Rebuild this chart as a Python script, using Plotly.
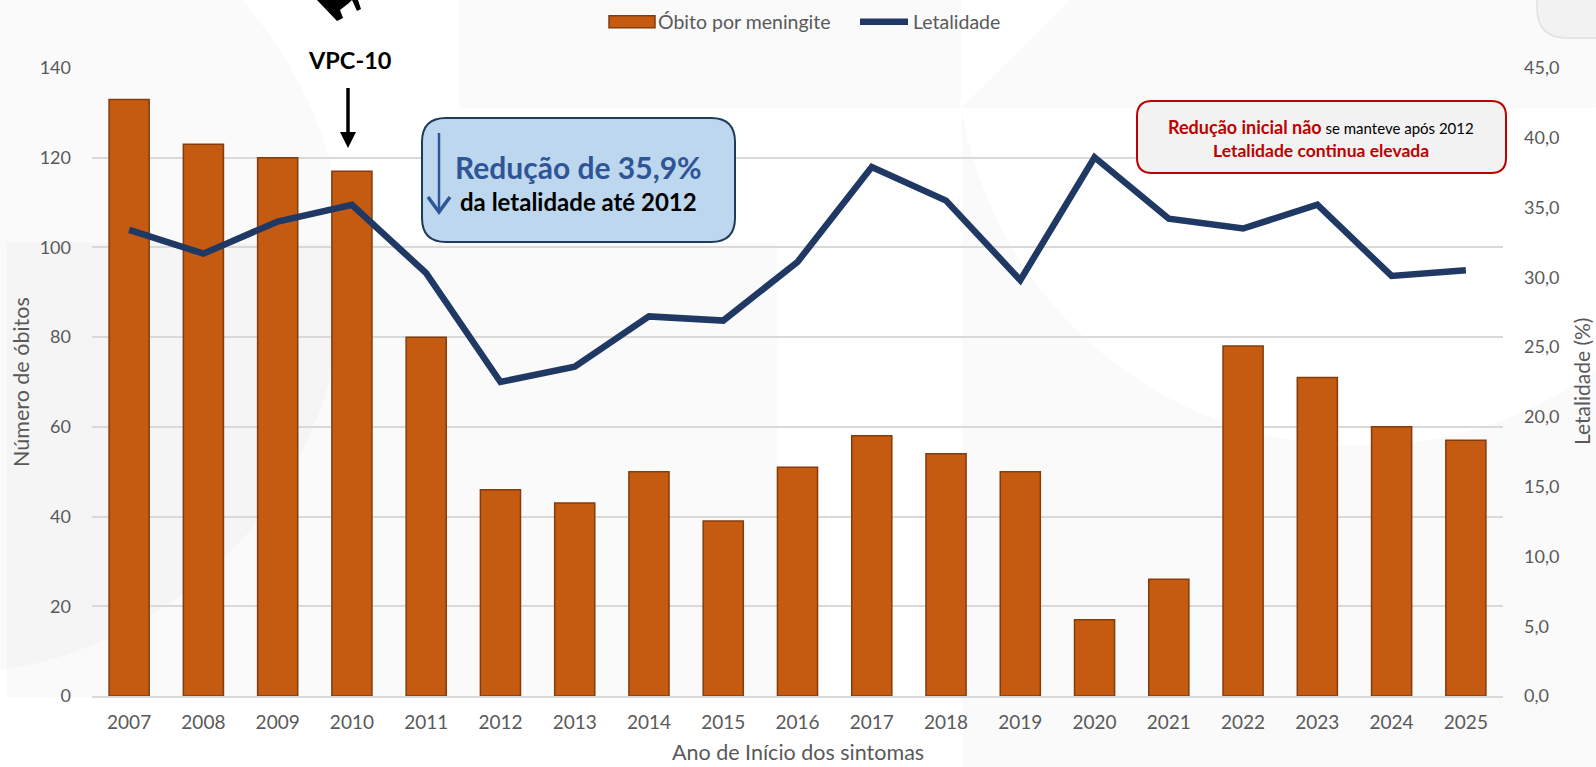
import numpy as np
import plotly.graph_objects as go

years = ["2007","2008","2009","2010","2011","2012","2013","2014","2015","2016","2017","2018","2019","2020","2021","2022","2023","2024","2025"]
obitos = [133,123,120,117,80,46,43,50,39,51,58,54,50,17,26,78,71,60,57]
letalidade = [33.4,31.7,34.0,35.2,30.3,22.5,23.6,27.2,26.9,31.1,37.9,35.5,29.8,38.6,34.2,33.5,35.2,30.1,30.5]
left_ticks = [0,20,40,60,80,100,120,140]
right_ticks = [0,5,10,15,20,25,30,35,40,45]
right_labels = ["0,0","5,0","10,0","15,0","20,0","25,0","30,0","35,0","40,0","45,0"]

W, H = 1596, 767
L, R, T, B = 92, 1503, 68, 696
FONT = "Lato"
GREY = "#595959"

def X(px): return (px - L) / (R - L)
def Y(py): return (B - py) / (B - T)

def poly(pts):
    return "M" + "L".join(f"{X(a):.5f},{Y(b):.5f}" for a, b in pts) + "Z"

def rounded(x0, y0, x1, y1, r):
    return (f"M{X(x0+r):.5f},{Y(y0):.5f}L{X(x1-r):.5f},{Y(y0):.5f}Q{X(x1):.5f},{Y(y0):.5f} {X(x1):.5f},{Y(y0+r):.5f}"
            f"L{X(x1):.5f},{Y(y1-r):.5f}Q{X(x1):.5f},{Y(y1):.5f} {X(x1-r):.5f},{Y(y1):.5f}"
            f"L{X(x0+r):.5f},{Y(y1):.5f}Q{X(x0):.5f},{Y(y1):.5f} {X(x0):.5f},{Y(y1-r):.5f}"
            f"L{X(x0):.5f},{Y(y0+r):.5f}Q{X(x0):.5f},{Y(y0):.5f} {X(x0+r):.5f},{Y(y0):.5f}Z")

def bg_shape(path, fill, opacity=1):
    return dict(type="path", xref="paper", yref="paper", path=path, fillcolor=fill, opacity=opacity,
                line=dict(width=0), layer="below")

shapes = []
# faint page artwork behind the chart
t = np.linspace(0, 2*np.pi, 181)
left_circle = [(max(-60 + 405*np.cos(a), 0), 270 + 405*np.sin(a)) for a in t]
shapes.append(bg_shape(poly(left_circle), "#000000", 0.02))
shapes.append(bg_shape(poly([(7,243),(777,243),(777,697),(7,697)]), "#000000", 0.02))
shapes.append(bg_shape(poly([(459,0),(W,0),(W,108),(459,108)]), "#000000", 0.02))
shapes.append(bg_shape(poly([(962,108),(W,108),(W,H),(962,H)]), "#000000", 0.02))
xs = np.linspace(962, W, 120)
arc = [(a, 42 + np.sqrt(max(404**2 - (a-1360)**2, 0))) for a in xs]
shapes.append(bg_shape(poly([(962,108)] + arc + [(W,108)]), "#ffffff"))
shapes.append(bg_shape(poly([(961,108),(1070,0),(961,0)]), "#ffffff"))
shapes.append(dict(type="path", xref="paper", yref="paper", layer="below", path=rounded(1537,-40,1640,38,30),
                   fillcolor="#f2f2f2", line=dict(color="#e0e0e0", width=1.5)))

# syringe fragment
shapes.append(dict(type="path", xref="paper", yref="paper",
                   path=poly([(317,0),(337,21),(343,18),(340,10),(349,3),(352,0)]), fillcolor="#000000", line=dict(width=0)))
shapes.append(dict(type="path", xref="paper", yref="paper",
                   path=poly([(352,0),(357,11),(361,9),(358,0)]), fillcolor="#000000", line=dict(width=0)))
# VPC-10 arrow
shapes.append(dict(type="line", xref="paper", yref="paper", x0=X(348), x1=X(348), y0=Y(88), y1=Y(134),
                   line=dict(color="#000000", width=3.5)))
shapes.append(dict(type="path", xref="paper", yref="paper",
                   path=poly([(340,132),(356,132),(348,148)]), fillcolor="#000000", line=dict(width=0)))
# blue box
shapes.append(dict(type="path", xref="paper", yref="paper", path=rounded(422,118,735,242,24),
                   fillcolor="#bdd7ee", line=dict(color="#1f3b5c", width=2)))
shapes.append(dict(type="line", xref="paper", yref="paper", x0=X(439), x1=X(439), y0=Y(133), y1=Y(211),
                   line=dict(color="#2f5597", width=2.5)))
shapes.append(dict(type="path", xref="paper", yref="paper",
                   path=f"M{X(428):.5f},{Y(197):.5f}L{X(439):.5f},{Y(212):.5f}L{X(450):.5f},{Y(197):.5f}",
                   line=dict(color="#2f5597", width=3.5)))
# red box
shapes.append(dict(type="path", xref="paper", yref="paper", path=rounded(1137,101,1506,173,15),
                   fillcolor="#f2f2f2", line=dict(color="#c00000", width=2)))

def note(px, py, text, size, color, bold=False):
    body = f"<b>{text}</b>" if bold else text
    return dict(xref="paper", yref="paper", x=X(px), y=Y(py), xanchor="center", yanchor="middle",
                text=body, showarrow=False, font=dict(family=FONT, size=size, color=color))

annotations = [
    note(350, 60, "VPC-10", 23.5, "#000000", True),
    note(578, 167, "Redução de 35,9%", 30, "#2f5597", True),
    note(578, 202, "da letalidade até 2012", 24, "#000000", True),
    note(1321, 127, "<span style='color:#c00000;font-size:18px;font-weight:bold'>Redução inicial não</span> se manteve após 2012", 15, "#000000"),
    note(1321, 150, "Letalidade continua elevada", 17.5, "#c00000", True),
    note(798, 752.5, "Ano de Início dos sintomas", 21.5, GREY),
]
a = note(21, 382, "Número de óbitos", 21.5, GREY); a["textangle"] = -90; annotations.append(a)
a = note(1581, 382, "Letalidade (%)", 21, GREY); a["textangle"] = -90; annotations.append(a)

fig = go.Figure()
fig.add_trace(go.Bar(x=years, y=obitos, name="Óbito por meningite", marker=dict(color="#c55a11", line=dict(color="#843c0c", width=1.5))))
fig.add_trace(go.Scatter(x=years, y=letalidade, name="Letalidade", yaxis="y2", mode="lines",
                         line=dict(color="#1f3864", width=6.5)))
fig.update_layout(
    width=W, height=H, autosize=False,
    margin=dict(l=L, r=W-R, t=T, b=H-B, pad=0),
    paper_bgcolor="#ffffff", plot_bgcolor="rgba(0,0,0,0)",
    bargap=0.46,
    font=dict(family=FONT, size=18, color=GREY),
    shapes=shapes, annotations=annotations,
    legend=dict(orientation="h", xref="container", yref="container", x=600/W, y=1-2.5/H, xanchor="left", yanchor="top",
                itemwidth=48, entrywidth=192,
                bgcolor="rgba(0,0,0,0)", font=dict(family=FONT, size=19.5, color=GREY), traceorder="normal", itemclick=False),
    xaxis=dict(type="category", range=[-0.5, 18.5], showgrid=False, showline=True, linecolor="#d9d9d9", linewidth=2,
               ticks="", tickfont=dict(family=FONT, size=19, color=GREY), ticklabelstandoff=8, tickangle=0, zeroline=False),
    yaxis=dict(range=[0, 140], tickvals=left_ticks, showgrid=True, gridcolor="#d9d9d9", gridwidth=1.5, zeroline=False,
               ticks="", tickfont=dict(family=FONT, size=18, color=GREY), ticklabelstandoff=20, showline=False),
    yaxis2=dict(range=[0, 45], overlaying="y", side="right", tickvals=right_ticks, ticktext=right_labels, showgrid=False,
                zeroline=False, ticks="", tickfont=dict(family=FONT, size=18, color=GREY), ticklabelstandoff=20, showline=False),
)
widen = """
document.body.style.margin='0';document.body.style.overflow='hidden';
var gd=document.getElementById('{plot_id}');
function widenSwatch(){
  document.querySelectorAll('.legend path').forEach(function(p){
    var d=(p.getAttribute('d')||'').replace(/\\s/g,'');
    if(d.indexOf('M6,6H-6V-6H6')===0){p.setAttribute('d','M-20,6H26V-6H-20Z');}
  });
}
widenSwatch();
if(gd&&gd.on){gd.on('plotly_afterplot',widenSwatch);}
setTimeout(widenSwatch,100);setTimeout(widenSwatch,400);
"""
fig.write_html("out.html", config=dict(displayModeBar=False), post_script=widen)
